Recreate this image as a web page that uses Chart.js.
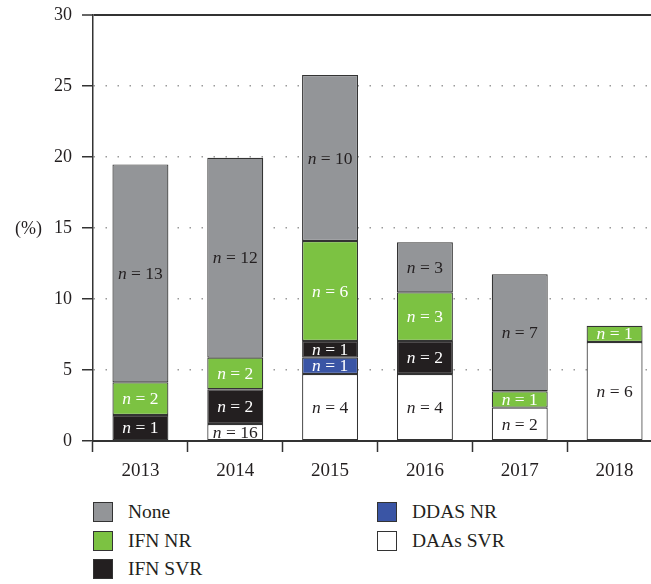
<!DOCTYPE html>
<html>
<head>
<meta charset="utf-8">
<script src="https://cdn.jsdelivr.net/npm/chart.js@4.4.1/dist/chart.umd.min.js"></script>
<style>
  html, body { margin: 0; padding: 0; background: #fff; }
  #wrap { position: relative; width: 651px; height: 584px; overflow: hidden; }
  #chart { position: absolute; left: 0; top: 0; }
  .leg { position: absolute; height: 20px; font: 19.5px "Liberation Serif", serif; color: #231f20; line-height: 20px; white-space: nowrap; }
  .leg i { position: absolute; left: 0; top: 0; width: 20px; height: 20px; box-sizing: border-box; border: 1.5px solid #333; }
  .leg span { position: absolute; left: 35px; top: 0; }
</style>
</head>
<body>
<div id="wrap">
  <canvas id="chart" width="662" height="490"></canvas>
  <div id="legend"></div>
</div>
<script>
// anos e percentuais de cada segmento, de baixo pra cima na pilha
const anos = ["2013", "2014", "2015", "2016", "2017", "2018"];

const daasSvr = [null, 1.2, 4.72, 4.72, 2.35, 6.97];
const ddasNr  = [null, null, 1.15, null, null, null];
const ifnSvr  = [1.83, 2.44, 1.17, 2.32, null, null];
const ifnNr   = [2.3, 2.23, 7.04, 3.43, 1.15, 1.15];
const nenhum  = [15.35, 14.08, 11.69, 3.52, 8.24, null];

// "n = x" escrito dentro de cada segmento
const nDaasSvr = [null, 16, 4, 4, 2, 6];
const nDdasNr  = [null, null, 1, null, null, null];
const nIfnSvr  = [1, 2, 1, 2, null, null];
const nIfnNr   = [2, 2, 6, 3, 1, 1];
const nNenhum  = [13, 12, 10, 3, 7, null];

const yTicks = [0, 5, 10, 15, 20, 25, 30];

const SERIF = '"Liberation Serif", "Times New Roman", serif';
const INK = "#231f20";

const series = [
  { label: "DAAs SVR", data: daasSvr, n: nDaasSvr, cor: "#ffffff", tinta: INK },
  { label: "DDAS NR",  data: ddasNr,  n: nDdasNr,  cor: "#3a55a5", tinta: "#fff" },
  { label: "IFN SVR",  data: ifnSvr,  n: nIfnSvr,  cor: "#231f20", tinta: "#fff" },
  { label: "IFN NR",   data: ifnNr,   n: nIfnNr,   cor: "#7cc242", tinta: "#fff" },
  { label: "None",     data: nenhum,  n: nNenhum,  cor: "#939598", tinta: INK },
];

// rótulos "n = x" no meio de cada segmento (n em itálico)
const rotulosN = {
  id: "rotulosN",
  afterDatasetsDraw(chart) {
    const ctx = chart.ctx;
    ctx.save();
    ctx.textBaseline = "middle";
    ctx.textAlign = "left";
    chart.data.datasets.forEach((ds, i) => {
      const meta = chart.getDatasetMeta(i);
      meta.data.forEach((bar, j) => {
        const n = ds.nLabels[j];
        if (n == null) return;
        const y = (bar.y + bar.base) / 2 + 1;
        ctx.font = "italic 17.5px " + SERIF;
        const w1 = ctx.measureText("n").width;
        ctx.font = "17.5px " + SERIF;
        const resto = " = " + n;
        const w2 = ctx.measureText(resto).width;
        const x0 = bar.x - (w1 + w2) / 2;
        ctx.fillStyle = ds.tinta;
        ctx.font = "italic 17.5px " + SERIF;
        ctx.fillText("n", x0, y);
        ctx.font = "17.5px " + SERIF;
        ctx.fillText(resto, x0 + w1, y);
      });
    });
    ctx.restore();
  },
};

// "(%)" na horizontal, à esquerda do eixo y
const tituloY = {
  id: "tituloY",
  afterDraw(chart) {
    const { ctx, chartArea } = chart;
    ctx.save();
    ctx.font = "18px " + SERIF;
    ctx.fillStyle = INK;
    ctx.textBaseline = "middle";
    ctx.textAlign = "left";
    ctx.fillText("(%)", 15, (chartArea.top + chartArea.bottom) / 2 + 1);
    ctx.restore();
  },
};

new Chart(document.getElementById("chart").getContext("2d"), {
  type: "bar",
  data: {
    labels: anos,
    datasets: series.map(s => ({
      label: s.label,
      data: s.data,
      nLabels: s.n,
      tinta: s.tinta,
      backgroundColor: s.cor,
      borderColor: "#333",
      borderWidth: 1.2,
      borderSkipped: false,
      barPercentage: 0.59,
      categoryPercentage: 1,
    })),
  },
  options: {
    responsive: false,
    animation: false,
    events: [],
    layout: { padding: { top: 15, left: 0, right: 0, bottom: 0 } },
    plugins: { legend: { display: false }, tooltip: { enabled: false } },
    scales: {
      x: {
        stacked: true,
        offset: true,
        grid: {
          offset: true,
          drawOnChartArea: false,
          drawTicks: true,
          tickLength: 11,
          tickColor: "#333",
          tickWidth: 1.5,
        },
        border: { display: true, color: "#333", width: 2 },
        ticks: { color: INK, font: { family: SERIF, size: 19 }, padding: 8 },
        afterFit(scale) { scale.height = 49; },
      },
      y: {
        stacked: true,
        min: 0,
        max: 30,
        afterBuildTicks(scale) { scale.ticks = yTicks.map(v => ({ value: v })); },
        grid: {
          color: c => (c.tick && c.tick.value === 30 ? "#333" : "#9a9a9a"),
          lineWidth: c => (c.tick && c.tick.value === 30 ? 2 : 1.5),
          drawTicks: true,
          tickLength: 11,
          tickColor: "#333",
          tickWidth: 1.5,
          tickBorderDash: [],
        },
        border: {
          display: true,
          color: "#333",
          width: 1.5,
          dash: c => (c.tick && c.tick.value !== 30 ? [1.5, 10.5] : []),
        },
        ticks: { color: INK, font: { family: SERIF, size: 18 }, padding: 10 },
        afterFit(scale) {
          scale.width = 93;
          scale.paddingTop = 0;
          scale.paddingBottom = 0;
        },
      },
    },
  },
  plugins: [rotulosN, tituloY],
});

// legenda em duas colunas, montada em HTML
const legendaItens = [
  { s: series[4], x: 93, y: 502 },
  { s: series[3], x: 93, y: 530.5 },
  { s: series[2], x: 93, y: 559 },
  { s: series[1], x: 377, y: 502 },
  { s: series[0], x: 377, y: 530.5 },
];
const legenda = document.getElementById("legend");
legendaItens.forEach(({ s, x, y }) => {
  const d = document.createElement("div");
  d.className = "leg";
  d.style.left = x + "px";
  d.style.top = y + "px";
  d.innerHTML = `<i style="background:${s.cor}"></i><span>${s.label}</span>`;
  legenda.appendChild(d);
});
</script>
</body>
</html>
